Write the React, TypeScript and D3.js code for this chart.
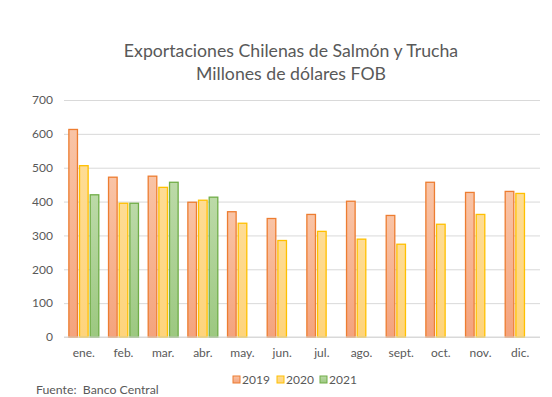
import { useRef, useEffect } from "react";
import * as d3 from "d3";

const months = ["ene.", "feb.", "mar.", "abr.", "may.", "jun.", "jul.", "ago.", "sept.", "oct.", "nov.", "dic."];
const years = ["2019", "2020", "2021"];
const values2019 = [613, 472, 475, 398, 370, 350, 362, 401, 359, 457, 427, 430];
const values2020 = [506, 395, 442, 404, 336, 285, 312, 289, 274, 333, 362, 424];
const values2021 = [420, 395, 457, 413, null, null, null, null, null, null, null, null];
const yTicks = [0, 100, 200, 300, 400, 500, 600, 700];

const strokes = ["#ED7D31", "#FFC000", "#70AD47"];
const gradTop = ["#f9c4a6", "#fedc94", "#bcdaa8"];
const gradBottom = ["#f4a37d", "#fed47c", "#9cc880"];

const W = 552;
const H = 397;
const font = "Lato, 'Open Sans', sans-serif";

const App = () => {
  const svgRef = useRef(null);

  useEffect(() => {
    const svg = d3.select(svgRef.current);
    svg.selectAll("*").remove();

    const seriesValues = [values2019, values2020, values2021];
    const margin = { top: 100, right: 12, bottom: 60, left: 64 };

    const x0 = d3.scaleBand().domain(months).range([margin.left, W - margin.right]);
    const x1 = d3
      .scaleBand()
      .domain(years)
      .range([x0.bandwidth() * 0.11, x0.bandwidth() * 0.89])
      .paddingInner(0.1);
    const y = d3.scaleLinear().domain([0, 700]).range([H - margin.bottom, margin.top]);

    // gradients
    const defs = svg.append("defs");
    years.forEach((yr, i) => {
      const g = defs
        .append("linearGradient")
        .attr("id", `grad${yr}`)
        .attr("x1", 0)
        .attr("y1", 0)
        .attr("x2", 0)
        .attr("y2", 1);
      g.append("stop").attr("offset", "0%").attr("stop-color", gradTop[i]);
      g.append("stop").attr("offset", "100%").attr("stop-color", gradBottom[i]);
    });

    // title
    const title = svg
      .append("text")
      .attr("text-anchor", "middle")
      .attr("fill", "#595959")
      .style("font-family", font)
      .style("font-size", "17.7px");
    title.append("tspan").attr("x", 291).attr("y", 57).text("Exportaciones Chilenas de Salmón y Trucha");
    title.append("tspan").attr("x", 291).attr("y", 80).text("Millones de dólares FOB");

    // y grid + labels
    const yAxis = d3
      .axisLeft(y)
      .tickValues(yTicks)
      .tickSize(-(W - margin.right - margin.left))
      .tickPadding(11);
    const yg = svg.append("g").attr("transform", `translate(${margin.left},0)`).call(yAxis);
    yg.select(".domain").remove();
    yg.selectAll("line").attr("stroke", "#d9d9d9").attr("stroke-width", 1);
    yg.selectAll("text")
      .attr("fill", "#595959")
      .style("font-family", font)
      .style("font-size", "12px");

    // bars
    const groups = svg
      .selectAll("g.month")
      .data(months)
      .join("g")
      .attr("class", "month")
      .attr("transform", (m) => `translate(${x0(m)},0)`);

    years.forEach((yr, si) => {
      groups
        .filter((_, mi) => seriesValues[si][mi] != null)
        .append("rect")
        .attr("x", x1(yr) + 0.5)
        .attr("width", x1.bandwidth() - 1)
        .attr("y", (m) => y(seriesValues[si][months.indexOf(m)]))
        .attr("height", (m) => y(0) - y(seriesValues[si][months.indexOf(m)]))
        .attr("fill", `url(#grad${yr})`)
        .attr("stroke", strokes[si])
        .attr("stroke-width", 1.3);
    });

    // baseline
    svg
      .append("line")
      .attr("x1", margin.left)
      .attr("x2", W - margin.right)
      .attr("y1", y(0))
      .attr("y2", y(0))
      .attr("stroke", "#d9d9d9");

    // x labels
    const xAxis = d3.axisBottom(x0).tickSize(0).tickPadding(11);
    const xg = svg.append("g").attr("transform", `translate(0,${y(0)})`).call(xAxis);
    xg.select(".domain").remove();
    xg.selectAll("text")
      .attr("fill", "#595959")
      .style("font-family", font)
      .style("font-size", "12px");

    // legend
    const legendX = [233, 277, 320];
    const legend = svg
      .selectAll("g.legend")
      .data(years)
      .join("g")
      .attr("class", "legend")
      .attr("transform", (_, i) => `translate(${legendX[i]},376)`);
    legend
      .append("rect")
      .attr("width", 7)
      .attr("height", 7)
      .attr("fill", (yr) => `url(#grad${yr})`)
      .attr("stroke", (_, i) => strokes[i])
      .attr("stroke-width", 1);
    legend
      .append("text")
      .attr("x", 9)
      .attr("y", 7.5)
      .attr("fill", "#595959")
      .style("font-family", font)
      .style("font-size", "12px")
      .text((yr) => yr);

    // source
    svg
      .append("text")
      .attr("x", 36)
      .attr("y", 394)
      .attr("fill", "#595959")
      .style("font-family", font)
      .style("font-size", "12.3px")
      .attr("xml:space", "preserve")
      .text("Fuente:  Banco Central");
  }, []);

  return (
    <div style={{ position: "absolute", left: 0, top: 0, background: "#fff" }}>
      <svg ref={svgRef} width={W} height={H}></svg>
    </div>
  );
};

export default App;
